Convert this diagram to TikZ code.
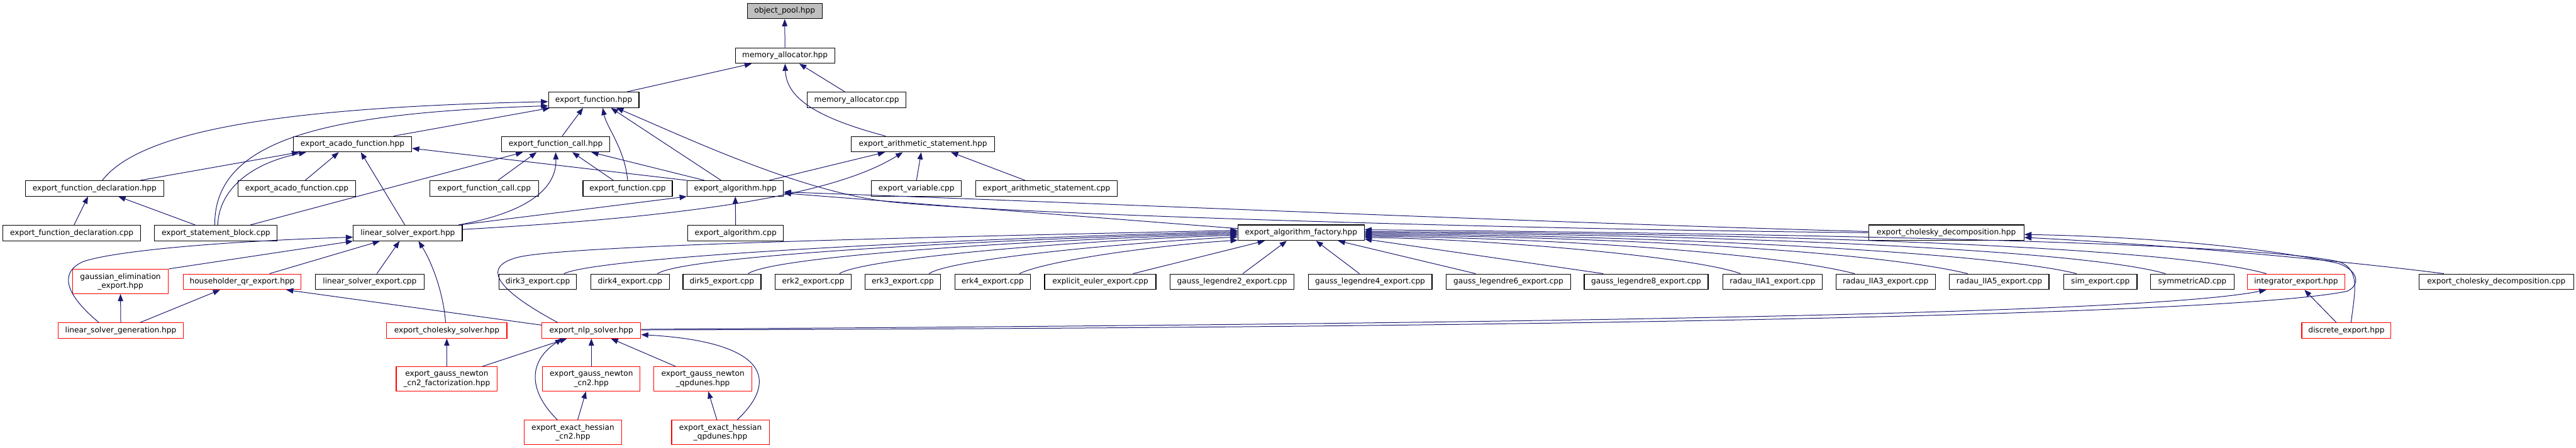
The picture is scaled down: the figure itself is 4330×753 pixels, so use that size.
\documentclass[tikz,border=0pt]{standalone}
\usepackage{fontspec}
\setmainfont{DejaVu Sans}
\usetikzlibrary{arrows.meta,calc}
\definecolor{edgec}{HTML}{191970}
\definecolor{grayfill}{HTML}{BFBFBF}
\begin{document}
\begin{tikzpicture}[x=0.01cm,y=-0.01cm,
  font=\fontsize{3.66pt}{4.27pt}\selectfont,
  bx/.style={draw=black, fill=white, line width=0.35pt, inner sep=0pt, minimum height=0.26cm, align=center},
  bxtwo/.style={bx, minimum height=0.41cm},
  rd/.style={draw=red},
  e/.style={draw=edgec, line width=0.3pt, -{Triangle[length=0.12cm,width=0.09cm]}}]
\useasboundingbox (0,0) rectangle (4330,753);
% ---------- nodes ----------
\node[bx, fill=grayfill, minimum width=1.26cm] (obj) at (1319,18.5) {object\_pool.hpp};
\node[bx, minimum width=1.67cm] (mem) at (1319.5,93.5) {memory\_allocator.hpp};
\node[bx, minimum width=1.52cm] (func) at (998,168) {export\_function.hpp};
\node[bx, minimum width=1.66cm] (memcpp) at (1440,168) {memory\_allocator.cpp};
\node[bx, minimum width=1.99cm] (acado) at (592.5,242.5) {export\_acado\_function.hpp};
\node[bx, minimum width=1.82cm] (call) at (934,242.5) {export\_function\_call.hpp};
\node[bx, minimum width=2.41cm] (arith) at (1551.5,242.5) {export\_arithmetic\_statement.hpp};
\node[bx, minimum width=2.32cm] (decl) at (159,317) {export\_function\_declaration.hpp};
\node[bx, minimum width=1.98cm] (acadocpp) at (499,317) {export\_acado\_function.cpp};
\node[bx, minimum width=1.82cm] (callcpp) at (814,317) {export\_function\_call.cpp};
\node[bx, minimum width=1.50cm] (funccpp) at (1055,317) {export\_function.cpp};
\node[bx, minimum width=1.62cm] (alg) at (1236,317) {export\_algorithm.hpp};
\node[bx, minimum width=1.51cm] (var) at (1540.5,317) {export\_variable.cpp};
\node[bx, minimum width=2.38cm] (arithcpp) at (1759,317) {export\_arithmetic\_statement.cpp};
\node[bx, minimum width=2.31cm] (declcpp) at (120.5,392) {export\_function\_declaration.cpp};
\node[bx, minimum width=2.06cm] (sb) at (363,392) {export\_statement\_block.cpp};
\node[bx, minimum width=1.83cm] (lse) at (685.5,392) {linear\_solver\_export.hpp};
\node[bx, minimum width=1.61cm] (algcpp) at (1236.5,392) {export\_algorithm.cpp};
\node[bx, minimum width=2.12cm] (fac) at (2187,391.5) {export\_algorithm\_factory.hpp};
\node[bx, minimum width=2.61cm] (chol) at (3271.5,391.5) {export\_cholesky\_decomposition.hpp};
\node[bxtwo, rd, minimum width=1.61cm] (gauss) at (202.5,473.5) {gaussian\_elimination\\\_export.hpp};
\node[bx, rd, minimum width=1.98cm] (hh) at (407,474) {householder\_qr\_export.hpp};
\node[bx, minimum width=1.83cm] (lsecpp) at (621.5,474) {linear\_solver\_export.cpp};
\node[bx, minimum width=1.30cm] (dirk3) at (904,474) {dirk3\_export.cpp};
\node[bx, minimum width=1.32cm] (dirk4) at (1059,474) {dirk4\_export.cpp};
\node[bx, minimum width=1.31cm] (dirk5) at (1213.5,474) {dirk5\_export.cpp};
\node[bx, minimum width=1.28cm] (erk2) at (1367,474) {erk2\_export.cpp};
\node[bx, minimum width=1.27cm] (erk3) at (1517.5,474) {erk3\_export.cpp};
\node[bx, minimum width=1.27cm] (erk4) at (1668.5,474) {erk4\_export.cpp};
\node[bx, minimum width=1.87cm] (euler) at (1849.5,474) {explicit\_euler\_export.cpp};
\node[bx, minimum width=2.08cm] (gl2) at (2071,474) {gauss\_legendre2\_export.cpp};
\node[bx, minimum width=2.08cm] (gl4) at (2303,474) {gauss\_legendre4\_export.cpp};
\node[bx, minimum width=2.09cm] (gl6) at (2535.5,474) {gauss\_legendre6\_export.cpp};
\node[bx, minimum width=2.08cm] (gl8) at (2767,474) {gauss\_legendre8\_export.cpp};
\node[bx, minimum width=1.67cm] (r1) at (2979.5,474) {radau\_IIA1\_export.cpp};
\node[bx, minimum width=1.67cm] (r3) at (3169.5,474) {radau\_IIA3\_export.cpp};
\node[bx, minimum width=1.67cm] (r5) at (3360.5,474) {radau\_IIA5\_export.cpp};
\node[bx, minimum width=1.23cm] (sim) at (3530.5,474) {sim\_export.cpp};
\node[bx, minimum width=1.40cm] (sym) at (3685,474) {symmetricAD.cpp};
\node[bx, rd, minimum width=1.63cm] (integ) at (3859.5,474) {integrator\_export.hpp};
\node[bx, minimum width=2.60cm] (cholcpp) at (4196,474) {export\_cholesky\_decomposition.cpp};
\node[bx, rd, minimum width=2.10cm] (lsg) at (203,556) {linear\_solver\_generation.hpp};
\node[bx, rd, minimum width=2.02cm] (cs) at (751,556) {export\_cholesky\_solver.hpp};
\node[bx, rd, minimum width=1.66cm] (nlp) at (994,556) {export\_nlp\_solver.hpp};
\node[bx, rd, minimum width=1.50cm] (disc) at (3944,556) {discrete\_export.hpp};
\node[bxtwo, rd, minimum width=1.70cm] (gnf) at (751,637.5) {export\_gauss\_newton\\\_cn2\_factorization.hpp};
\node[bxtwo, rd, minimum width=1.64cm] (gn2) at (994,637.5) {export\_gauss\_newton\\\_cn2.hpp};
\node[bxtwo, rd, minimum width=1.65cm] (gnq) at (1181.5,637.5) {export\_gauss\_newton\\\_qpdunes.hpp};
\node[bxtwo, rd, minimum width=1.64cm] (eh2) at (963,727.5) {export\_exact\_hessian\\\_cn2.hpp};
\node[bxtwo, rd, minimum width=1.64cm] (ehq) at (1211,727.5) {export\_exact\_hessian\\\_qpdunes.hpp};
% ---------- edges ----------
% top
\draw[e] (mem.north) -- (obj.south);
\draw[e] ($(func.north)+(56,0)$) -- ($(mem.south)+(-56,0)$);
\draw[e] ($(memcpp.north)+(-20,0)$) -- ($(mem.south)+(24,0)$);
\draw[e] ($(arith.north)+(-63,0)$) .. controls (1360,195) and (1322,160) .. (mem.south);
% into export_function.hpp
\draw[e] ($(decl.north)+(13,0)$) .. controls (240,215) and (500,180) .. ($(func.west)+(0,3)$);
\draw[e] ($(sb.north)+(-2,0)$) .. controls (360,230) and (560,190) .. ($(func.west)+(0,10)$);
\draw[e] ($(acado.north)+(69,0)$) -- ($(func.south west)+(3,0)$);
\draw[e] ($(call.north)+(11,0)$) -- ($(func.south)+(-18,0)$);
\draw[e] (funccpp.north) .. controls (1050,250) and (1020,215) .. ($(func.south)+(15,0)$);
\draw[e] ($(alg.north)+(-24,0)$) -- ($(func.south)+(29,0)$);
\draw[e] (chol.west) .. controls (2500,385) and (1700,360) .. (1500,340) .. controls (1350,325) and (1150,230) .. ($(func.south)+(38,0)$);
% into export_arithmetic_statement.hpp
\draw[e] ($(arithcpp.north)+(-36,0)$) -- ($(arith.south)+(47,0)$);
\draw[e] (var.north) -- ($(arith.south)+(-3,0)$);
\draw[e] ($(alg.north)+(57,0)$) -- ($(arith.south)+(-64,0)$);
\draw[e] ($(lse.east)+(0,-6)$) .. controls (1150,365) and (1400,330) .. ($(arith.south)+(-34,0)$);
% into export_acado_function.hpp
\draw[e] ($(decl.north)+(77,0)$) -- ($(acado.south)+(-90,0)$);
\draw[e] ($(sb.north)+(3,0)$) .. controls (368,320) and (420,275) .. ($(acado.south)+(-78,0)$);
\draw[e] ($(acadocpp.north)+(14,0)$) -- ($(acado.south)+(-23,0)$);
\draw[e] ($(lse.north)+(-5,0)$) -- ($(acado.south)+(14,0)$);
\draw[e] (alg.north west) -- ($(acado.east)+(0,7)$);
% into export_function_call.hpp
\draw[e] ($(sb.north)+(58,0)$) -- ($(call.south)+(-55,0)$);
\draw[e] ($(callcpp.north)+(23,0)$) -- ($(call.south)+(-32,0)$);
\draw[e] ($(lse.north)+(85,0)$) .. controls (900,355) and (936,310) .. (call.south);
\draw[e] ($(funccpp.north)+(-24,0)$) -- ($(call.south)+(28,0)$);
\draw[e] ($(alg.north)+(-52,0)$) -- ($(call.south)+(60,0)$);
% into export_function_declaration.hpp
\draw[e] ($(declcpp.north)+(4,0)$) -- ($(decl.south)+(-11,0)$);
\draw[e] ($(sb.north)+(-35,0)$) -- ($(decl.south)+(40,0)$);
% into export_algorithm.hpp
\draw[e] (algcpp.north) -- (alg.south);
\draw[e] ($(lse.north east)+(-5,0)$) -- (alg.south west);
\draw[e] ($(fac.west)+(0,-7)$) -- ($(alg.east)+(0,8)$);
\draw[e] ($(chol.west)+(0,-2)$) .. controls (2600,375) and (1800,340) .. ($(alg.east)+(0,6)$);
% into export_algorithm_factory.hpp (left)
\draw[e] ($(nlp.north)+(-57,0)$) .. controls (840,490) and (805,450) .. (870,433) .. controls (950,412) and (1600,398) .. ($(fac.west)+(0,-4)$);
\draw[e] ($(dirk3.north)+(44,0)$) .. controls (1000,435) and (1500,405) .. ($(fac.west)+(0,-2)$);
\draw[e] ($(dirk4.north)+(46,0)$) .. controls (1150,432) and (1600,405) .. (fac.west);
\draw[e] ($(dirk5.north)+(44,0)$) .. controls (1300,432) and (1700,405) .. ($(fac.west)+(0,2)$);
\draw[e] ($(erk2.north)+(44,0)$) .. controls (1450,435) and (1800,405) .. ($(fac.west)+(0,4)$);
\draw[e] ($(erk3.north)+(44,0)$) .. controls (1600,435) and (1900,408) .. ($(fac.west)+(0,7)$);
\draw[e] ($(erk4.north)+(45,0)$) .. controls (1760,438) and (1950,412) .. ($(fac.south west)+(0,-1)$);
% into export_algorithm_factory.hpp (bottom)
\draw[e] ($(euler.north)+(55,0)$) -- ($(fac.south)+(-61,0)$);
\draw[e] ($(gl2.north)+(18,0)$) -- ($(fac.south)+(-24,0)$);
\draw[e] ($(gl4.north)+(-18,0)$) -- ($(fac.south)+(25,0)$);
\draw[e] ($(gl6.north)+(-55,0)$) -- ($(fac.south)+(62,0)$);
% into export_algorithm_factory.hpp (right)
\draw[e] ($(gl8.north)+(-72,0)$) -- ($(fac.south east)+(0,-3)$);
\draw[e] ($(r1.north)+(-54,0)$) .. controls (2850,432) and (2500,402) .. ($(fac.east)+(0,8)$);
\draw[e] ($(r3.north)+(-52,0)$) .. controls (2980,425) and (2600,400) .. ($(fac.east)+(0,6)$);
\draw[e] ($(r5.north)+(-53,0)$) .. controls (3150,422) and (2700,398) .. ($(fac.east)+(0,4)$);
\draw[e] ($(sim.north)+(-40,0)$) .. controls (3350,425) and (2800,396) .. ($(fac.east)+(0,2)$);
\draw[e] ($(sym.north)+(-45,0)$) .. controls (3500,420) and (2900,394) .. (fac.east);
\draw[e] ($(integ.north)+(-50,0)$) .. controls (3650,415) and (3000,393) .. ($(fac.east)+(0,-2)$);
\draw[e] ($(disc.north)+(8,0)$) .. controls (3957,495) and (3970,452) .. (3930,440) .. controls (3800,412) and (3200,395) .. ($(fac.east)+(0,-5)$);
% right part
\draw[e] ($(nlp.east)+(0,-2)$) .. controls (2500,545) and (3600,530) .. ($(integ.south)+(-50,0)$);
\draw[e] ($(nlp.east)+(0,-1)$) .. controls (2600,552) and (3750,530) .. (3945,490) .. controls (3968,480) and (3965,455) .. (3930,443) .. controls (3800,415) and (3600,398) .. ($(chol.east)+(0,3)$);
\draw[e] ($(cholcpp.north)+(-88,0)$) .. controls (3950,440) and (3650,412) .. ($(chol.east)+(0,8)$);
\draw[e] ($(disc.north)+(-17,0)$) -- ($(integ.south)+(14,0)$);
% into linear_solver_export.hpp
\draw[e] (gauss.north east) -- (lse.south west);
\draw[e] ($(lsg.north)+(-37,0)$) .. controls (115,500) and (95,460) .. (140,440) .. controls (200,420) and (400,405) .. ($(lse.west)+(0,7)$);
\draw[e] ($(hh.north)+(46,0)$) -- ($(lse.south)+(-47,0)$);
\draw[e] ($(lsecpp.north)+(12,0)$) -- ($(lse.south)+(-14,0)$);
\draw[e] ($(cs.north)+(-2,0)$) .. controls (745,490) and (725,440) .. ($(lse.south)+(18,0)$);
% linear solver generation / householder
\draw[e] (lsg.north) -- (gauss.south);
\draw[e] ($(lsg.north)+(33,0)$) -- ($(hh.south)+(-37,0)$);
\draw[e] ($(nlp.west)+(0,-9)$) -- ($(hh.south)+(74,0)$);
% into export_nlp_solver.hpp and below
\draw[e] (gnf.north) -- (cs.south);
\draw[e] ($(gnf.north)+(60,0)$) -- ($(nlp.south)+(-41,0)$);
\draw[e] (gn2.north) -- (nlp.south);
\draw[e] ($(gnq.north)+(-46,0)$) -- ($(nlp.south)+(33,0)$);
\draw[e] ($(eh2.north)+(-26,0)$) .. controls (890,660) and (885,610) .. ($(nlp.south)+(-49,0)$);
\draw[e] ($(eh2.north)+(8,0)$) -- ($(gn2.south)+(-9,0)$);
\draw[e] ($(ehq.north)+(-6,0)$) -- ($(gnq.south)+(9,0)$);
\draw[e] ($(ehq.north)+(28,0)$) .. controls (1310,640) and (1290,575) .. ($(nlp.east)+(0,7)$);
\end{tikzpicture}
\end{document}
